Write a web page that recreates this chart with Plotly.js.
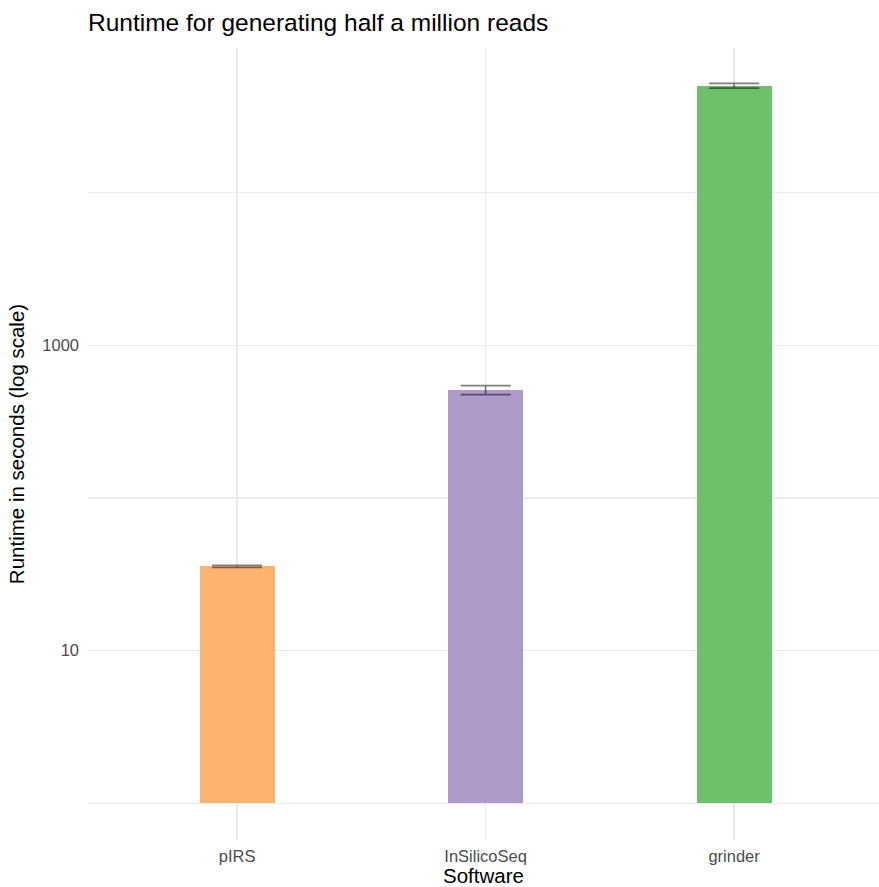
<!DOCTYPE html>
<html>
<head>
<meta charset="utf-8">
<script src="https://cdn.plot.ly/plotly-3.0.1.min.js"></script>
<style>html,body{margin:0;padding:0;background:#fff;}#chart{width:879px;height:887px;}</style>
</head>
<body>
<div id="chart"></div>
<script>
const software = ["pIRS", "InSilicoSeq", "grinder"];
const runtime = [35.7, 507, 50100];
const errUpper = [36.3, 545, 52000];
const errLower = [35.1, 476, 48400];
const barColors = ["#FBB36F", "#AF9BCA", "#6DC16B"];
const yTickVals = [1, 10, 100, 1000, 10000];
const yTickText = ["", "10", "", "1000", ""];

const barTrace = {
  type: "bar",
  x: software,
  y: runtime.map(v => v - 1),
  base: 1,
  width: 0.302,
  marker: {color: barColors, line: {width: 0}},
  hoverinfo: "skip",
  showlegend: false
};
const errTrace = {
  type: "scatter",
  mode: "markers",
  x: software,
  y: runtime,
  marker: {size: 1, opacity: 0},
  error_y: {
    type: "data",
    symmetric: false,
    array: errUpper.map((u, i) => u - runtime[i]),
    arrayminus: runtime.map((v, i) => v - errLower[i]),
    color: "rgba(0,0,0,0.5)",
    thickness: 1.7,
    width: 25
  },
  hoverinfo: "skip",
  showlegend: false
};

const layout = {
  width: 879, height: 887,
  margin: {l: 88, r: 0, t: 48, b: 47},
  paper_bgcolor: "#fff", plot_bgcolor: "#fff",
  font: {family: "Liberation Sans, Arial, sans-serif", color: "#000"},
  title: {text: "Runtime for generating half a million reads", x: 88/879, xanchor: "left", y: 0.975, yanchor: "middle", font: {size: 24.5, color: "#000"}},
  bargap: 0,
  xaxis: {
    type: "category",
    range: [-0.6, 2.583],
    showgrid: true, gridcolor: "#EBEBEB", gridwidth: 1.3,
    zeroline: false, showline: false, ticks: "",
    tickfont: {size: 16.5, color: "#4D4D4D"},
    ticklabelstandoff: 4,
    automargin: false,
    title: {text: "Software", font: {size: 20.5, color: "#000"}, standoff: 2}
  },
  yaxis: {
    type: "log",
    range: [-0.24, 4.948],
    tickmode: "array", tickvals: yTickVals, ticktext: yTickText,
    showgrid: true, gridcolor: "#EBEBEB", gridwidth: 1.3,
    zeroline: false, showline: false, ticks: "",
    tickfont: {size: 16.5, color: "#4D4D4D"},
    ticklabelstandoff: 8,
    automargin: false,
    title: {text: "Runtime in seconds (log scale)", font: {size: 20.5, color: "#000"}, standoff: 12}
  }
};

Plotly.newPlot("chart", [barTrace, errTrace], layout, {staticPlot: true, displayModeBar: false});
</script>
</body>
</html>
